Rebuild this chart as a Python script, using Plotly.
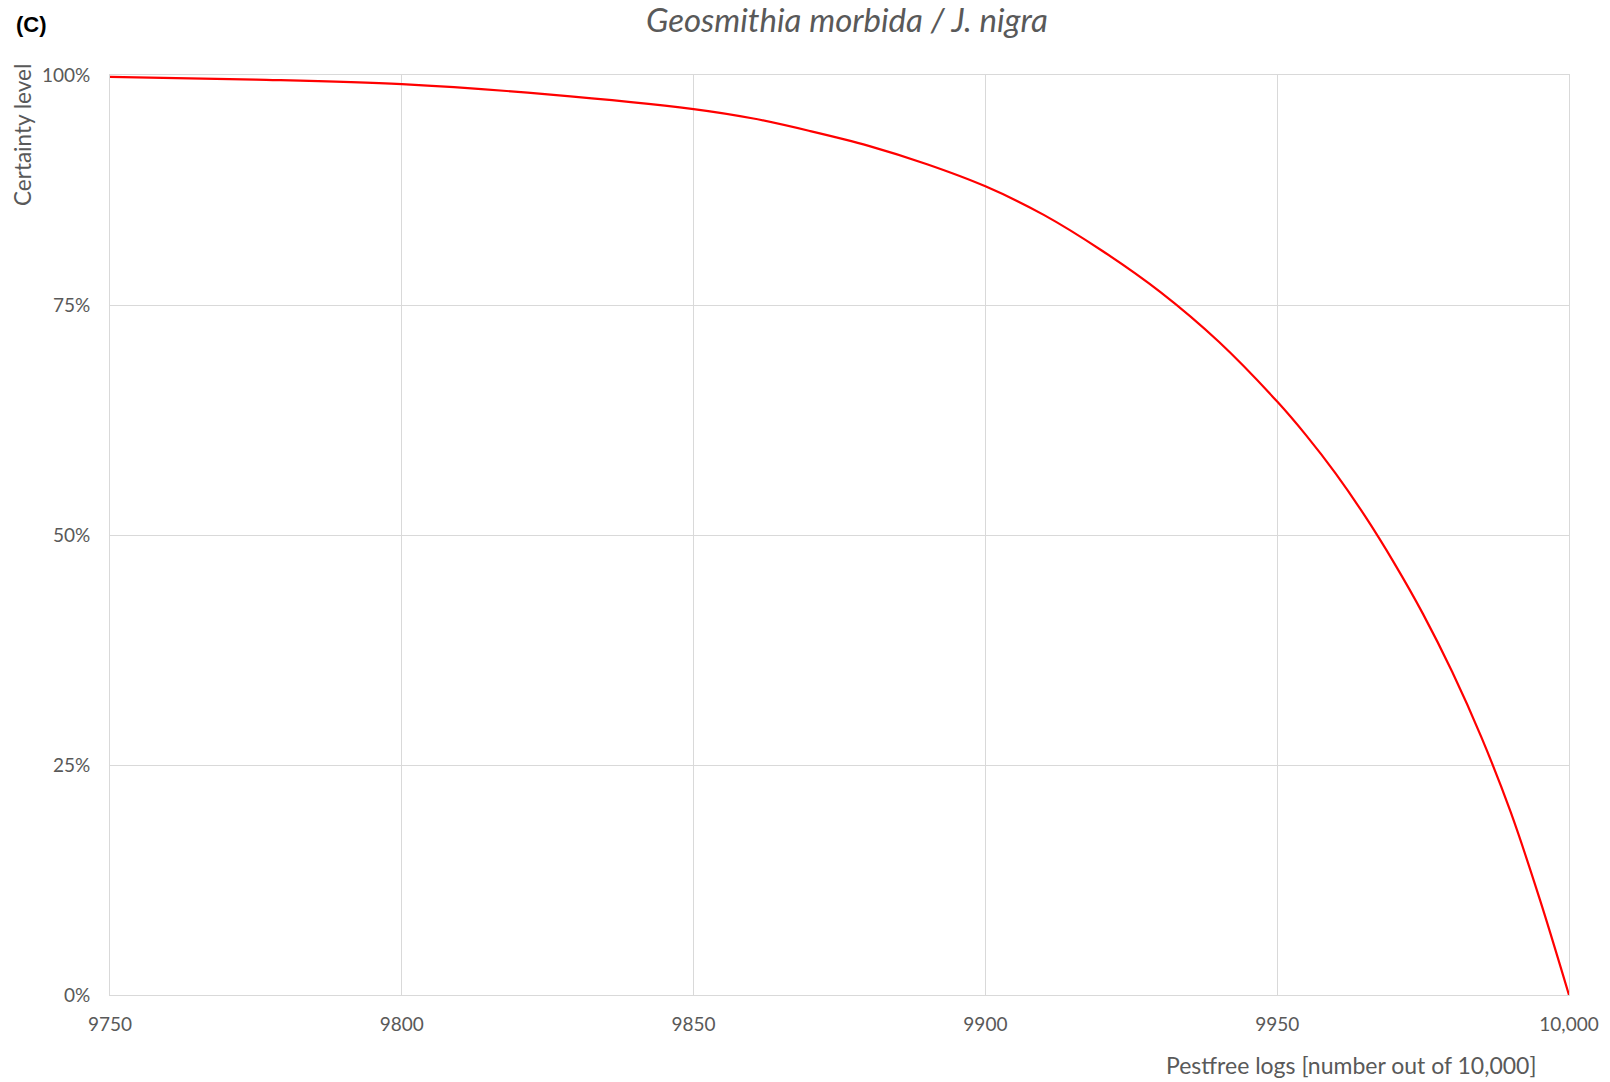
import plotly.graph_objects as go

# Values
pestfree_logs = [9750, 9775, 9800, 9825, 9850, 9860, 9870, 9880, 9890, 9900,
                 9910, 9920, 9930, 9940, 9950, 9955, 9960, 9965, 9970, 9975,
                 9980, 9985, 9990, 9995, 10000]
certainty = [0.998, 0.995, 0.990, 0.979, 0.963, 0.953, 0.939, 0.923, 0.903, 0.879,
             0.848, 0.809, 0.764, 0.710, 0.645, 0.608, 0.567, 0.521, 0.470, 0.414,
             0.351, 0.280, 0.199, 0.104, 0.0]

x_tick_vals = [9750, 9800, 9850, 9900, 9950, 10000]
x_tick_text = ["9750", "9800", "9850", "9900", "9950", "10,000"]
y_tick_vals = [0, 0.25, 0.5, 0.75, 1.0]
y_tick_text = ["0%", "25%", "50%", "75%", "100%"]

title_text = "Geosmithia morbida / J. nigra"
panel_label = "(C)"
x_title = "Pestfree logs [number out of 10,000]"
y_title = "Certainty level"

FONT = "Lato"
GRAY = "#595959"
GRID = "#d9d9d9"

# plot area target (page px): x 110-1569, y 75-995
PL, PR, PT, PB = 110, 1569, 75, 995
PW, PH = PR - PL, PB - PT


def px(xp):
    return (xp - PL) / PW


def py(yp):
    return (PB - yp) / PH


fig = go.Figure()
fig.add_trace(go.Scatter(
    x=pestfree_logs, y=certainty, mode="lines",
    line=dict(color="#ff0000", width=2.2, shape="spline", smoothing=1.0),
    hoverinfo="x+y", showlegend=False,
))

fig.update_layout(
    width=1610, height=1082,
    margin=dict(l=PL, r=1610 - PR, t=PT, b=1082 - PB),
    paper_bgcolor="white", plot_bgcolor="white",
    font=dict(family=FONT, color=GRAY, size=19),
    xaxis=dict(
        range=[9750, 10000], tickvals=x_tick_vals, ticktext=x_tick_text,
        showgrid=True, gridcolor=GRID, gridwidth=1,
        showline=True, linecolor=GRID, linewidth=1, mirror=True,
        ticks="", zeroline=False, ticklabelstandoff=12,
        tickfont=dict(family=FONT, size=19, color=GRAY),
    ),
    yaxis=dict(
        range=[0, 1], tickvals=y_tick_vals, ticktext=y_tick_text,
        showgrid=True, gridcolor=GRID, gridwidth=1,
        showline=True, linecolor=GRID, linewidth=1, mirror=True,
        ticks="", zeroline=False, ticklabelstandoff=15,
        tickfont=dict(family=FONT, size=19, color=GRAY),
    ),
    annotations=[
        dict(text="<i>" + title_text + "</i>", xref="paper", yref="paper",
             x=px(847), y=py(19), xanchor="center", yanchor="middle",
             showarrow=False, font=dict(family=FONT, size=33, color=GRAY)),
        dict(text="<b>" + panel_label + "</b>", xref="paper", yref="paper",
             x=px(14), y=py(24), xanchor="left", yanchor="middle",
             showarrow=False, font=dict(family="Liberation Sans", size=22, color="black")),
        dict(text=x_title, xref="paper", yref="paper",
             x=px(1351), y=py(1065), xanchor="center", yanchor="middle",
             showarrow=False, font=dict(family=FONT, size=23, color=GRAY)),
        dict(text=y_title, xref="paper", yref="paper", textangle=-90,
             x=px(23), y=py(135), xanchor="center", yanchor="middle",
             showarrow=False, font=dict(family=FONT, size=22.5, color=GRAY)),
    ],
)

fig.write_html("out.html",
               config={"displayModeBar": False},
               post_script="document.body.style.margin='0';document.body.style.overflow='hidden';")
